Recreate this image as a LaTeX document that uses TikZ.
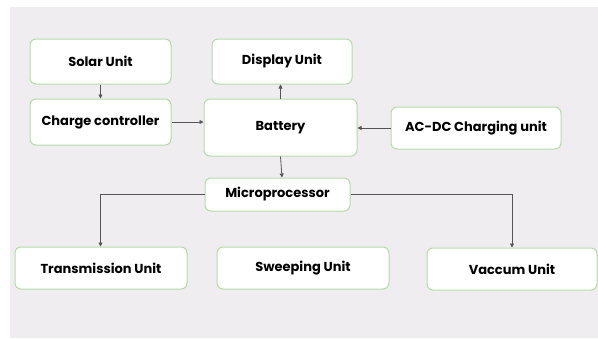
\documentclass[tikz,border=0pt]{standalone}
\usepackage{fontspec}
\setmainfont{Poppins}
\usetikzlibrary{arrows.meta}
\definecolor{bggray}{HTML}{EFEDF0}
\definecolor{boxgreen}{HTML}{B5DBA8}
\definecolor{linegray}{HTML}{555555}
\begin{document}
\begin{tikzpicture}[x=1pt,y=-1pt,
  unitbox/.style={draw=boxgreen,line width=1pt,fill=white,rounded corners=6pt,
    font=\fontsize{13}{15}\selectfont\bfseries,text=black,inner sep=0pt},
  conn/.style={draw=linegray,line width=0.8pt,-{Triangle[length=4pt,width=4pt]}}]
\useasboundingbox (0,0) rectangle (598,338);
\fill[white] (0,0) rectangle (598,338);
\fill[bggray] (10,7) rectangle (598,338);
% boxes
\node[unitbox,minimum width=141pt,minimum height=45pt] (solar) at (100.5,61.5) {Solar Unit};
\node[unitbox,minimum width=141pt,minimum height=46pt] (charge) at (100.5,122) {Charge controller};
\node[unitbox,minimum width=140pt,minimum height=45pt] (display) at (282,61.5) {Display Unit};
\node[unitbox,minimum width=153pt,minimum height=57pt] (battery) at (280.5,127.5) {Battery};
\node[unitbox,minimum width=170pt,minimum height=42pt] (acdc) at (476,128) {AC-DC Charging unit};
\node[unitbox,minimum width=145pt,minimum height=33pt] (micro) at (277.5,194.5) {Microprocessor};
\node[unitbox,minimum width=172pt,minimum height=42pt] (trans) at (101,268) {Transmission Unit};
\node[unitbox,minimum width=172pt,minimum height=42pt] (sweep) at (303,268) {Sweeping Unit};
\node[unitbox,minimum width=170pt,minimum height=42pt] (vacc) at (512,269) {Vaccum Unit};
% connectors
\draw[conn] (solar.south) -- (charge.north);
\draw[conn] (charge.east) -- (charge.east -| battery.west);
\draw[conn] (battery.north) -- (display.south -| battery.north);
\draw[conn] (acdc.west) -- (acdc.west -| battery.east);
\draw[conn] (battery.south) -- (micro.north -| 282,0);
\draw[conn] (micro.west) -| (trans.north -| solar.south);
\draw[conn] (micro.east) -| (vacc.north);
\end{tikzpicture}
\end{document}
